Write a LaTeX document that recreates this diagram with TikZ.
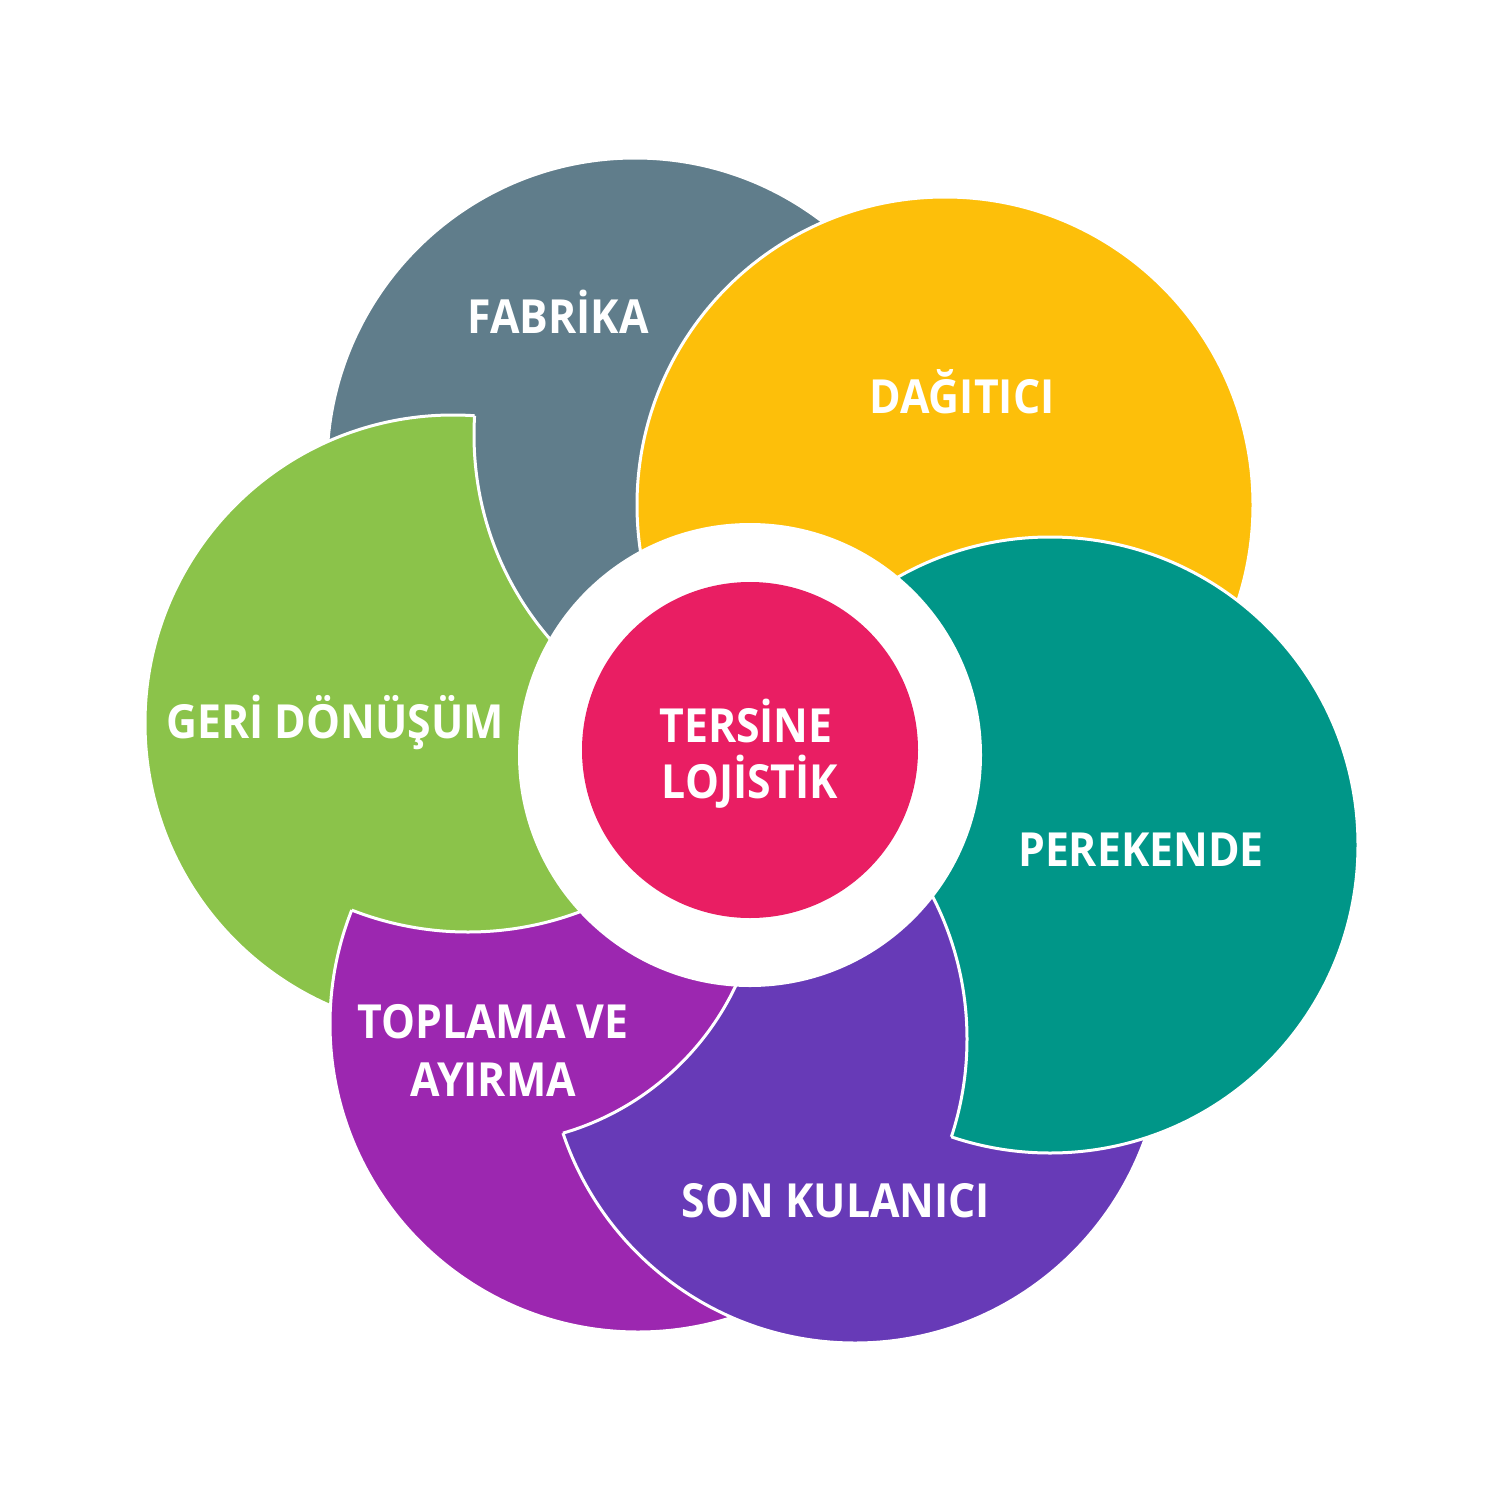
\documentclass[tikz,border=0pt]{standalone}
\usepackage{fontspec}
\setmainfont{Open Sans}[FakeStretch=0.91]
\definecolor{fabrika}{HTML}{607D8B}
\definecolor{dagitici}{HTML}{FDBF0A}
\definecolor{perekende}{HTML}{009688}
\definecolor{sonkul}{HTML}{673AB7}
\definecolor{toplama}{HTML}{9C27B0}
\definecolor{geri}{HTML}{8BC34A}
\definecolor{tersine}{HTML}{E91E63}

\begin{document}
\begin{tikzpicture}[x=1pt,y=-1pt,
    petal/.style={draw=white,line width=3pt},
    lbl/.style={text=white,anchor=base,inner sep=0pt,
      font=\bfseries\fontsize{47}{56}\selectfont}]
  \useasboundingbox[fill=white] (0,0) rectangle (1500,1496);
  % back petals
  \filldraw[petal,fill=fabrika] (635,466) circle[radius=308pt];
  \filldraw[petal,fill=dagitici] (945,505) circle[radius=308pt];
  % geri donusum, cut at top right
  \begin{scope}[even odd rule]
    \clip (0,0) rectangle (1500,1496) (786,435) circle[radius=312pt];
    \filldraw[petal,fill=geri] (453,723) circle[radius=308pt];
  \end{scope}
  \begin{scope}
    \clip (453,723) circle[radius=308pt];
    \draw[petal] (786,435) circle[radius=312pt];
  \end{scope}
  % toplama ve ayirma, cut at top
  \begin{scope}[even odd rule]
    \clip (0,0) rectangle (1500,1496) (468,614) circle[radius=318pt];
    \filldraw[petal,fill=toplama] (638,1024) circle[radius=308pt];
  \end{scope}
  \begin{scope}
    \clip (638,1024) circle[radius=308pt];
    \draw[petal] (468,614) circle[radius=318pt];
  \end{scope}
  % son kulanici, cut at top left
  \begin{scope}[even odd rule]
    \clip (0,0) rectangle (1500,1496) (486,868) circle[radius=276pt];
    \filldraw[petal,fill=sonkul] (855,1035) circle[radius=308pt];
  \end{scope}
  \begin{scope}
    \clip (855,1035) circle[radius=308pt];
    \draw[petal] (486,868) circle[radius=276pt];
  \end{scope}
  % perekende, cut at bottom left
  \begin{scope}[even odd rule]
    \clip (0,0) rectangle (1500,1496) (655,1039) circle[radius=312pt];
    \filldraw[petal,fill=perekende] (1050,845) circle[radius=308pt];
  \end{scope}
  \begin{scope}
    \clip (1050,845) circle[radius=308pt];
    \draw[petal] (655,1039) circle[radius=312pt];
  \end{scope}
  % middle
  \node[circle,fill=white,minimum size=464pt,inner sep=0pt] (ring) at (750,755) {};
  \node[circle,fill=tersine,minimum size=336pt,inner sep=0pt] (core) at (750,750) {};
  % labels
  \node[lbl] (fabrikaL) at (558,333) {FABRİKA};
  \node[lbl] (dagiticiL) at (962,413) {DAĞITICI};
  \node[lbl] (geriL) at (335,738) {GERİ DÖNÜŞÜM};
  \node[lbl] (perekendeL) at (1141,866) {PEREKENDE};
  \node[lbl] (sonkulL) at (836,1217) {SON KULANICI};
  \node[lbl] (toplamaL) at (493,1038) {TOPLAMA VE};
  \node[lbl] (ayirmaL) at (493,1096) {AYIRMA};
  \node[lbl] (tersineL) at (746,742) {TERSİNE};
  \node[lbl] (lojistikL) at (750,798) {LOJİSTİK};
\end{tikzpicture}
\end{document}
